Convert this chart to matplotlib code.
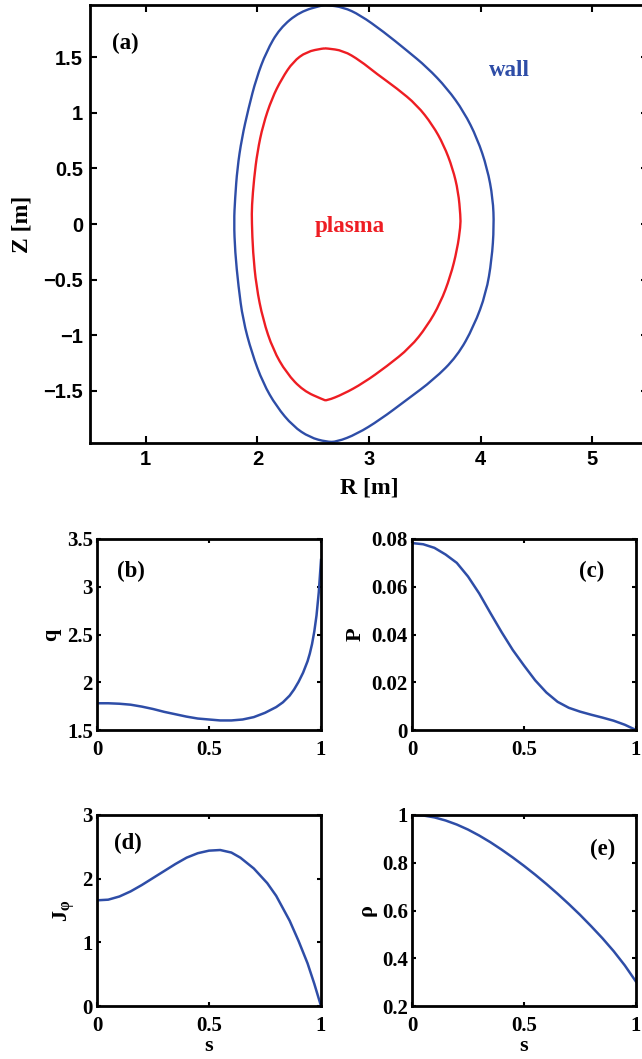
import numpy as np
import matplotlib
matplotlib.use("Agg")
import matplotlib.pyplot as plt
from matplotlib.path import Path
from matplotlib.patches import PathPatch

# ------------------------------
# Boundary shapes (R, Z)
# ------------------------------
wall_R = [2.62, 2.77, 2.92, 3.13, 3.34, 3.52, 3.70, 3.85, 3.97, 4.06, 4.11, 4.12,
          4.10, 4.05, 3.94, 3.79, 3.58, 3.34, 3.10, 2.89, 2.71, 2.62,
          2.47, 2.32, 2.17, 2.05, 1.95, 1.87, 1.83, 1.80, 1.79,
          1.80, 1.82, 1.86, 1.92, 1.99, 2.08, 2.20, 2.38, 2.59, 2.62]
wall_Z = [1.97, 1.95, 1.88, 1.73, 1.56, 1.41, 1.22, 1.01, 0.77, 0.50, 0.23, -0.02,
          -0.32, -0.62, -0.92, -1.19, -1.40, -1.58, -1.76, -1.89, -1.96, -1.96,
          -1.92, -1.82, -1.64, -1.43, -1.16, -0.86, -0.56, -0.25, 0.02,
          0.23, 0.50, 0.77, 1.04, 1.31, 1.55, 1.76, 1.91, 1.97, 1.97]

plasma_R = [2.62, 2.77, 2.92, 3.07, 3.25, 3.43, 3.57, 3.67, 3.75, 3.80, 3.82, 3.82,
            3.79, 3.73, 3.64, 3.52, 3.37, 3.16, 2.95, 2.77, 2.62,
            2.59, 2.41, 2.26, 2.14, 2.05, 1.99, 1.96, 1.95,
            1.95, 1.97, 2.00, 2.05, 2.13, 2.22, 2.32, 2.44, 2.59, 2.62]
plasma_Z = [1.58, 1.56, 1.47, 1.35, 1.22, 1.07, 0.89, 0.71, 0.50, 0.29, 0.07, -0.02,
            -0.23, -0.47, -0.71, -0.92, -1.11, -1.28, -1.43, -1.53, -1.59,
            -1.58, -1.50, -1.34, -1.13, -0.86, -0.56, -0.25, 0.02,
            0.16, 0.41, 0.65, 0.89, 1.13, 1.31, 1.46, 1.55, 1.58, 1.58]

# ------------------------------
# Radial profiles vs s
# ------------------------------
s_q = [0.0, 0.05, 0.10, 0.15, 0.20, 0.25, 0.30, 0.35, 0.40, 0.45, 0.50, 0.55, 0.60,
       0.65, 0.70, 0.75, 0.80, 0.83, 0.86, 0.88, 0.90, 0.92, 0.94, 0.95, 0.96, 0.97,
       0.98, 0.99, 1.0]
q_vals = [1.78, 1.78, 1.775, 1.765, 1.745, 1.72, 1.69, 1.665, 1.64, 1.62, 1.61, 1.60,
          1.60, 1.61, 1.635, 1.68, 1.74, 1.79, 1.86, 1.925, 2.005, 2.10, 2.22, 2.30,
          2.40, 2.53, 2.70, 2.94, 3.28]

s_p = [0.0, 0.05, 0.10, 0.15, 0.20, 0.25, 0.30, 0.35, 0.40, 0.45, 0.50, 0.55, 0.60,
       0.65, 0.70, 0.75, 0.80, 0.85, 0.90, 0.95, 1.0]
p_vals = [0.0783, 0.0778, 0.0763, 0.0735, 0.0700, 0.0643, 0.0572, 0.0490, 0.0410,
          0.0335, 0.0270, 0.0208, 0.0157, 0.0118, 0.0093, 0.0077, 0.0064, 0.0052,
          0.0039, 0.0022, 0.0]

s_j = [0.0, 0.05, 0.10, 0.15, 0.20, 0.25, 0.30, 0.35, 0.40, 0.45, 0.50, 0.55, 0.60,
       0.64, 0.70, 0.76, 0.80, 0.86, 0.90, 0.94, 0.97, 1.0]
j_vals = [1.66, 1.67, 1.72, 1.80, 1.90, 2.01, 2.12, 2.23, 2.33, 2.40, 2.44, 2.45, 2.41,
          2.33, 2.16, 1.93, 1.73, 1.34, 1.02, 0.67, 0.35, 0.0]

s_r = [0.0, 0.05, 0.10, 0.15, 0.20, 0.25, 0.30, 0.35, 0.40, 0.45, 0.50, 0.55, 0.60,
       0.65, 0.70, 0.75, 0.80, 0.85, 0.90, 0.95, 1.0]
rho_vals = [1.0, 0.998, 0.990, 0.977, 0.960, 0.939, 0.914, 0.886, 0.855, 0.822, 0.787,
            0.750, 0.711, 0.670, 0.627, 0.582, 0.534, 0.484, 0.430, 0.370, 0.302]

blue = '#2E4DA7'
red = '#EE1D23'
sans = 'Liberation Sans'
serif = 'Liberation Serif'

plt.rcParams['xtick.direction'] = 'in'
plt.rcParams['ytick.direction'] = 'in'
plt.rcParams['axes.unicode_minus'] = True
plt.rcParams['lines.solid_joinstyle'] = 'round'
plt.rcParams['mathtext.fontset'] = 'custom'
plt.rcParams['mathtext.rm'] = 'Liberation Serif:bold'
plt.rcParams['mathtext.bf'] = 'Liberation Serif:bold'
plt.rcParams['mathtext.it'] = 'Liberation Serif:italic:bold'

fig = plt.figure(figsize=(6.42, 10.59), dpi=100)

def style_axes(ax, family, size, length):
    for sp in ax.spines.values():
        sp.set_linewidth(2.0)
    ax.tick_params(which='both', top=True, right=True, length=length, width=1.5,
                   labelsize=size, pad=5)
    for lbl in ax.get_xticklabels() + ax.get_yticklabels():
        lbl.set_fontfamily(family)
        lbl.set_fontweight('bold')

def smooth_outline(ax, R, Z, color):
    # closed quadratic-bezier outline: read points act as control points
    pts = np.column_stack([R, Z])[:-1]
    n = len(pts)
    mids = (pts + np.roll(pts, -1, axis=0)) / 2
    verts = [mids[-1]]
    codes = [Path.MOVETO]
    for i in range(n):
        verts += [pts[i], mids[i]]
        codes += [Path.CURVE3, Path.CURVE3]
    ax.add_patch(PathPatch(Path(verts, codes), fill=False, edgecolor=color,
                           lw=1.7, joinstyle='round'))

# ------------------------------
# (a) cross-section
# ------------------------------
ax = fig.add_axes([90 / 642, 1 - 443 / 1059, 558 / 642, 438 / 1059])
smooth_outline(ax, wall_R, wall_Z, blue)
smooth_outline(ax, plasma_R, plasma_Z, red)
ax.set_xlim(0.5, 5.5)
ax.set_ylim(-1.97, 1.97)
ax.set_xticks([1, 2, 3, 4, 5])
ax.set_yticks([-1.5, -1, -0.5, 0, 0.5, 1, 1.5])
ax.set_yticklabels(['\u22121.5', '\u22121', '\u22120.5', '0', '0.5', '1', '1.5'])
style_axes(ax, sans, 14.5, 5)
ax.set_xlabel('R [m]', family=serif, weight='bold', fontsize=17, labelpad=6)
ax.set_ylabel('Z [m]', family=serif, weight='bold', fontsize=17, labelpad=8)
ax.text(0.82, 1.62, '(a)', family=serif, weight='bold', fontsize=16.5,
        ha='center', va='center')
ax.text(4.26, 1.38, 'wall', family=serif, weight='bold', fontsize=16.5,
        color=blue, ha='center', va='center')
ax.text(2.83, -0.02, 'plasma', family=serif, weight='bold', fontsize=16.5,
        color=red, ha='center', va='center')

# ------------------------------
# (b)-(e) profiles
# ------------------------------
w = 224 / 642
h = 191 / 1059
left_l, left_r = 97 / 642, 412 / 642
bot_top, bot_low = 1 - 730 / 1059, 1 - 1006 / 1059

panels = [
    (left_l, bot_top, s_q, q_vals, (1.5, 3.5), [1.5, 2, 2.5, 3, 3.5], 'q', '(b)', (0.15, 0.83), False),
    (left_r, bot_top, s_p, p_vals, (0, 0.08), [0, 0.02, 0.04, 0.06, 0.08], 'P', '(c)', (0.80, 0.83), False),
    (left_l, bot_low, s_j, j_vals, (0, 3), [0, 1, 2, 3], '$\\mathbf{J}_{\\mathbf{\u03c6}}$', '(d)', (0.14, 0.85), True),
    (left_r, bot_low, s_r, rho_vals, (0.2, 1), [0.2, 0.4, 0.6, 0.8, 1], '\u03c1', '(e)', (0.85, 0.82), True),
]

for x0, y0, sx, sy, ylim, yt, ylab, tag, tpos, show_s in panels:
    a = fig.add_axes([x0, y0, w, h])
    a.plot(sx, sy, color=blue, lw=1.8)
    a.set_xlim(0, 1)
    a.set_ylim(*ylim)
    a.set_xticks([0, 0.5, 1])
    a.set_xticklabels(['0', '0.5', '1'])
    a.set_yticks(yt)
    a.set_yticklabels(['%g' % v for v in yt])
    style_axes(a, serif, 15, 3)
    a.tick_params(axis='y', pad=3)
    a.tick_params(axis='x', pad=7)
    a.set_ylabel(ylab, family=serif, weight='bold', fontsize=16, labelpad=4)
    if show_s:
        a.set_xlabel('s', family=serif, weight='bold', fontsize=16, labelpad=0)
    a.text(tpos[0], tpos[1], tag, transform=a.transAxes, family=serif,
           weight='bold', fontsize=16.5, ha='center', va='center')

fig.savefig('out.png', dpi=100)
